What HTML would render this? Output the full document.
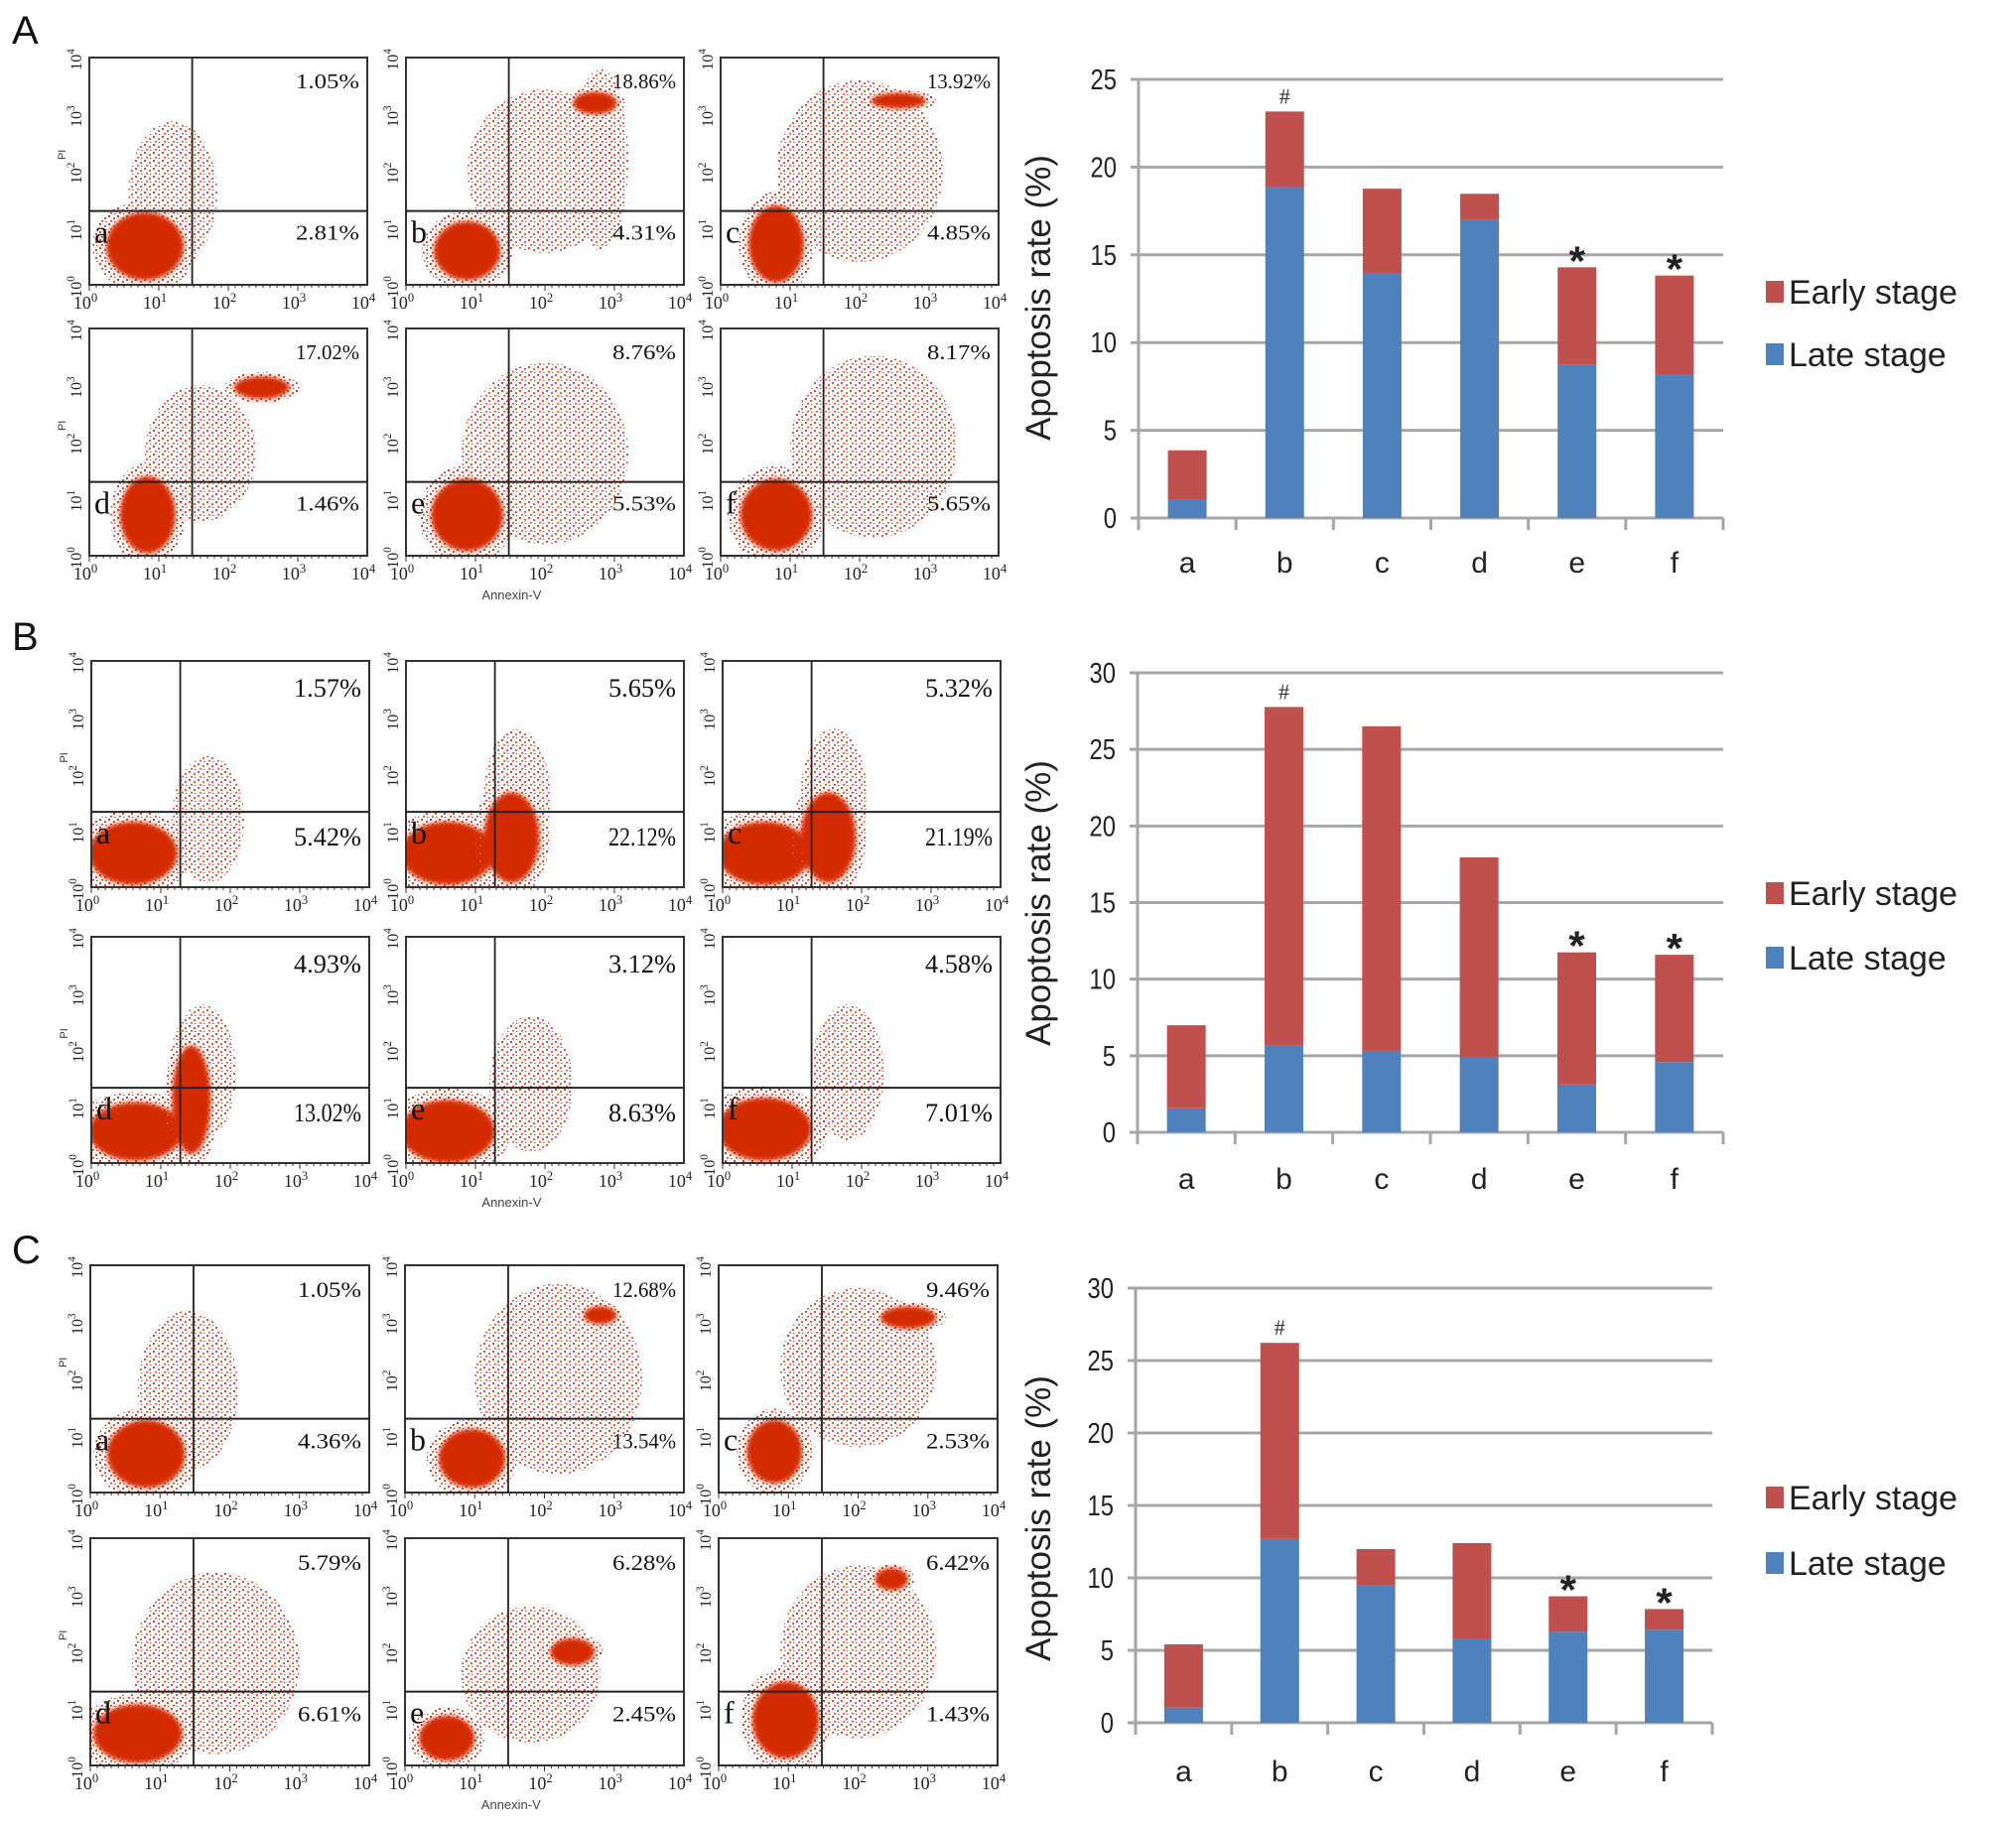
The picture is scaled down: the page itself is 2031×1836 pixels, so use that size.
<!DOCTYPE html>
<html><head><meta charset="utf-8">
<style>
html,body{margin:0;padding:0;background:#fff;}
body{width:2031px;height:1836px;overflow:hidden;}
svg{display:block;font-family:"Liberation Sans",sans-serif;}
.serif{font-family:"Liberation Serif",serif;}
</style></head>
<body>
<svg id="fig" width="2031" height="1836" viewBox="0 0 2031 1836" xmlns="http://www.w3.org/2000/svg">
<defs>
<pattern id="dots" width="9" height="8" patternUnits="userSpaceOnUse">
<rect x="1" y="1" width="2" height="2" fill="#d8381c"/>
<rect x="6" y="3" width="2" height="2" fill="#e0502f"/>
<rect x="3" y="6" width="2" height="1.5" fill="#d8381c"/>
<rect x="7" y="7" width="1.5" height="1" fill="#d8381c"/>
</pattern>
<filter id="blur" x="-20%" y="-20%" width="140%" height="140%"><feGaussianBlur stdDeviation="2.5"/></filter>
</defs>
<g id="flow"></g>
<g id="charts"></g>
</svg>
<script>
// ---------- Bar chart data ----------
const categories = ['a','b','c','d','e','f'];
const lateA = [1.05,18.86,13.92,17.02,8.76,8.17];
const earlyA = [2.81,4.31,4.85,1.46,5.53,5.65];
const lateB = [1.57,5.65,5.32,4.93,3.12,4.58];
const earlyB = [5.42,22.12,21.19,13.02,8.63,7.01];
const lateC = [1.05,12.68,9.46,5.79,6.28,6.42];
const earlyC = [4.36,13.54,2.53,6.61,2.45,1.43];
const ticksA = [0,5,10,15,20,25];
const ticksB = [0,5,10,15,20,25,30];
const ticksC = [0,5,10,15,20,25,30];
const marksLabels = ['','#','','','*','*'];

const NS='http://www.w3.org/2000/svg';
function mk(tag,attrs,parent,txt){const e=document.createElementNS(NS,tag);for(const k in attrs)e.setAttribute(k,attrs[k]);if(txt!==undefined)e.textContent=txt;parent.appendChild(e);return e;}

const charts=document.getElementById('charts');
function barChart(id,late,early,ticks,geo){
  const g=mk('g',{},charts);
  
  
  const maxV=ticks[ticks.length-1];
  const y=v=>geo.y0-(v/maxV)*(geo.y0-geo.yTop);
  const band=(geo.x1-geo.x0)/categories.length;
  const xc=i=>geo.x0+band*(i+0.5);
  ticks.forEach(t=>{
    const l=mk('line',{x1:geo.x0-8,x2:geo.x1,y1:y(t),y2:y(t),stroke:'#a6a6a6','stroke-width':3},g);
    
    
    const tx=mk('text',{x:geo.x0-22,y:y(t)+10,'text-anchor':'end','font-size':29,fill:'#222',transform:`translate(${geo.x0-22},0) scale(0.82,1) translate(${-(geo.x0-22)},0)`},g,String(t));
    
    
  });
  const ax=mk('line',{x1:geo.x0,x2:geo.x0,y1:geo.yTop,y2:geo.y0+12,stroke:'#a6a6a6','stroke-width':3},g);
  
  
  for(let i=0;i<=categories.length;i++){
    const tk=mk('line',{x1:geo.x0+band*i,x2:geo.x0+band*i,y1:geo.y0,y2:geo.y0+12,stroke:'#a6a6a6','stroke-width':3},g);
    
    
  }
  const bw=39;
  categories.forEach((c,i)=>{
    const lt=mk('rect',{x:xc(i)-bw/2,y:y(late[i]),width:bw,height:y(0)-y(late[i]),fill:'#4f81bd'},g);
    
    
    const tot=late[i]+early[i];
    const er=mk('rect',{x:xc(i)-bw/2,y:y(tot),width:bw,height:y(late[i])-y(tot),fill:'#c0504d'},g);
    
    
    const xl=mk('text',{x:xc(i),y:geo.labY+11,'text-anchor':'middle','font-size':30,fill:'#222'},g,c);
    
    
    const m=marksLabels[i];
    if(m==='#'){
      const t=mk('text',{x:xc(i),y:y(tot)-8,'text-anchor':'middle','font-size':22,fill:'#333','class':'serif'},g,'#');
      
      
    } else if(m==='*'){
      const t=mk('text',{x:xc(i),y:y(tot)+8,'text-anchor':'middle','font-size':42,'font-weight':'bold',fill:'#222'},g,'*');
      
      
    }
  });
  const title=mk('text',{x:0,y:0,'text-anchor':'middle','font-size':35,fill:'#222',transform:`translate(${geo.titleX},${geo.titleY}) rotate(-90)`},g,'Apoptosis rate (%)');
  
  
  [['Early stage','#c0504d',geo.legE],['Late stage','#4f81bd',geo.legL]].forEach(([lab,col,ly])=>{
    const sw=mk('rect',{x:1779,y:ly-11,width:18,height:22,fill:col},g);
    
    
    const lt=mk('text',{x:1802,y:ly+12,'font-size':34,fill:'#222'},g,lab);
    
    
  });
}
barChart('A',lateA,earlyA,ticksA,{x0:1147,x1:1736,y0:522,yTop:80,labY:566,titleX:1058,titleY:300,legE:294,legL:357});
barChart('B',lateB,earlyB,ticksB,{x0:1146,x1:1736,y0:1141,yTop:678,labY:1187,titleX:1058,titleY:910,legE:900,legL:965});
barChart('C',lateC,earlyC,ticksC,{x0:1144,x1:1725,y0:1736,yTop:1298,labY:1784,titleX:1058,titleY:1530,legE:1509,legL:1575});

// ---------- Flow cytometry panels ----------
const flow=document.getElementById('flow');
const rows=[
 {label:'A',lx:12,ly:44,cols:[90,409,726],ys:[58,331],w:280,h:229,vf:0.37,hf:0.675,fs:21,pw:64,
  pcts:[['1.05%','2.81%'],['18.86%','4.31%'],['13.92%','4.85%'],['17.02%','1.46%'],['8.76%','5.53%'],['8.17%','5.65%']]},
 {label:'B',lx:12,ly:655,cols:[92,409,728],ys:[666,944],w:280,h:228,vf:0.32,hf:0.667,fs:26,pw:68,
  pcts:[['1.57%','5.42%'],['5.65%','22.12%'],['5.32%','21.19%'],['4.93%','13.02%'],['3.12%','8.63%'],['4.58%','7.01%']]},
 {label:'C',lx:12,ly:1273,cols:[91,408,724],ys:[1275,1550],w:281,h:229,vf:0.37,hf:0.675,fs:22,pw:64,
  pcts:[['1.05%','4.36%'],['12.68%','13.54%'],['9.46%','2.53%'],['5.79%','6.61%'],['6.28%','2.45%'],['6.42%','1.43%']]}
];
const shapes={
 A:[
  [['s',0.3,0.6,0.16,0.32],['d',0.2,0.83,0.14,0.15]],
  [['s',0.5,0.5,0.28,0.36],['s',0.7,0.45,0.1,0.4],['d',0.22,0.85,0.12,0.13],['d',0.68,0.2,0.08,0.05]],
  [['s',0.5,0.5,0.3,0.4],['d',0.2,0.82,0.1,0.17],['d',0.64,0.19,0.1,0.035]],
  [['s',0.4,0.55,0.2,0.3],['d',0.21,0.82,0.1,0.17],['d',0.62,0.26,0.1,0.05]],
  [['s',0.5,0.55,0.3,0.4],['d',0.22,0.82,0.13,0.16]],
  [['s',0.55,0.52,0.3,0.4],['d',0.2,0.82,0.13,0.16]]],
 B:[
  [['s',0.42,0.7,0.13,0.28],['d',0.15,0.85,0.16,0.14]],
  [['s',0.4,0.6,0.12,0.3],['d',0.15,0.85,0.17,0.14],['d',0.38,0.78,0.1,0.2]],
  [['s',0.4,0.6,0.12,0.3],['d',0.15,0.85,0.17,0.14],['d',0.38,0.78,0.1,0.2]],
  [['s',0.4,0.6,0.12,0.3],['d',0.16,0.86,0.17,0.13],['d',0.36,0.72,0.07,0.24]],
  [['s',0.45,0.65,0.15,0.3],['d',0.15,0.86,0.17,0.14]],
  [['s',0.45,0.6,0.13,0.3],['d',0.15,0.85,0.17,0.14]]],
 C:[
  [['s',0.35,0.55,0.18,0.35],['d',0.2,0.83,0.14,0.15]],
  [['s',0.55,0.5,0.3,0.42],['d',0.24,0.85,0.12,0.13],['d',0.7,0.22,0.06,0.04]],
  [['s',0.5,0.45,0.28,0.35],['d',0.2,0.82,0.1,0.14],['d',0.68,0.23,0.1,0.05]],
  [['s',0.45,0.55,0.3,0.4],['d',0.17,0.86,0.16,0.13]],
  [['s',0.45,0.6,0.25,0.3],['d',0.15,0.88,0.1,0.1],['d',0.6,0.5,0.08,0.06]],
  [['s',0.5,0.5,0.28,0.38],['d',0.24,0.8,0.12,0.17],['d',0.62,0.18,0.06,0.05]]]
};
const letters=['a','b','c','d','e','f'];
function pow(base,exp,x,y,fs,g,anchor,rot){
  const t=mk('text',{x:x,y:y,'font-size':fs,fill:'#222','text-anchor':anchor||'middle','class':'serif'},g);
  if(rot)t.setAttribute('transform',`rotate(-90 ${x} ${y})`);
  const a=document.createElementNS(NS,'tspan');a.textContent=base;t.appendChild(a);
  const b=document.createElementNS(NS,'tspan');b.setAttribute('dy',-7);b.setAttribute('font-size',fs*0.7);b.textContent=exp;t.appendChild(b);
  
  
}
rows.forEach(r=>{
  const pl=mk('text',{x:r.lx,y:r.ly,'font-size':40,fill:'#111'},flow,r.label);
  
  
  for(let k=0;k<6;k++){
    const ci=k%3,ri=Math.floor(k/3);
    const X=r.cols[ci],Y=r.ys[ri],W=r.w,H=r.h;
    const g=mk('g',{},flow);
    
    
    const clip='clip'+r.label+k;
    const cp=mk('clipPath',{id:clip},g);mk('rect',{x:X,y:Y,width:W,height:H},cp);
    const cg=mk('g',{'clip-path':`url(#${clip})`},g);
    shapes[r.label][k].forEach(s=>{
      const [t,cx,cy,rx,ry]=s;
      if(t==='s'){
        mk('ellipse',{cx:X+cx*W,cy:Y+cy*H,rx:rx*W,ry:ry*H,fill:'url(#dots)',opacity:0.9},cg);
      } else {
        mk('ellipse',{cx:X+cx*W,cy:Y+cy*H,rx:rx*W*1.35,ry:ry*H*1.35,fill:'url(#dots)'},cg);
        mk('ellipse',{cx:X+cx*W,cy:Y+cy*H,rx:rx*W,ry:ry*H,fill:'#d42a06',filter:'url(#blur)'},cg);
      }
    });
    const fr=mk('rect',{x:X,y:Y,width:W,height:H,fill:'none',stroke:'#333','stroke-width':2},g);
    
    
    const vl=mk('line',{x1:X+r.vf*W,x2:X+r.vf*W,y1:Y,y2:Y+H,stroke:'#222','stroke-width':1.8},g);
    
    
    const hl=mk('line',{x1:X,x2:X+W,y1:Y+r.hf*H,y2:Y+r.hf*H,stroke:'#222','stroke-width':2},g);
    
    
    const p1=mk('text',{x:X+W-r.pw-8,y:Y+r.fs+10,'font-size':r.fs,fill:'#111','class':'serif',textLength:r.pw,lengthAdjust:'spacingAndGlyphs'},g,r.pcts[k][0]);
    
    
    const p2=mk('text',{x:X+W-r.pw-8,y:Y+r.hf*H+r.fs+8,'font-size':r.fs,fill:'#111','class':'serif',textLength:r.pw,lengthAdjust:'spacingAndGlyphs'},g,r.pcts[k][1]);
    
    
    const lt=mk('text',{x:X+5,y:Y+r.hf*H+32,'font-size':32,fill:'#111','class':'serif'},g,letters[k]);
    
    
    for(let j=0;j<=4;j++){
      pow('10',String(j),X+j*W/4-4,Y+H+24,18,g,'middle',false);
      pow('10',String(j),X-8,Y+H-j*H/4+2,16,g,'middle',true);
    }
    for(let j=0;j<40;j++){
      const tx=X+j*W/40;
      mk('line',{x1:tx,x2:tx,y1:Y+H,y2:Y+H+(j%10===0?6:3),stroke:'#333','stroke-width':1},g);
    }
    if(ci===0){
      const pi=mk('text',{x:0,y:0,'font-size':11,fill:'#333',transform:`translate(${X-24},${Y+H*0.45}) rotate(-90)`},g,'PI');
      
      
    }
    if(ci===1&&ri===1){
      const an=mk('text',{x:X+W*0.38,y:Y+H+44,'font-size':13,fill:'#444','text-anchor':'middle'},g,'Annexin-V');
      
      
    }
  }
});
</script>
</body></html>
